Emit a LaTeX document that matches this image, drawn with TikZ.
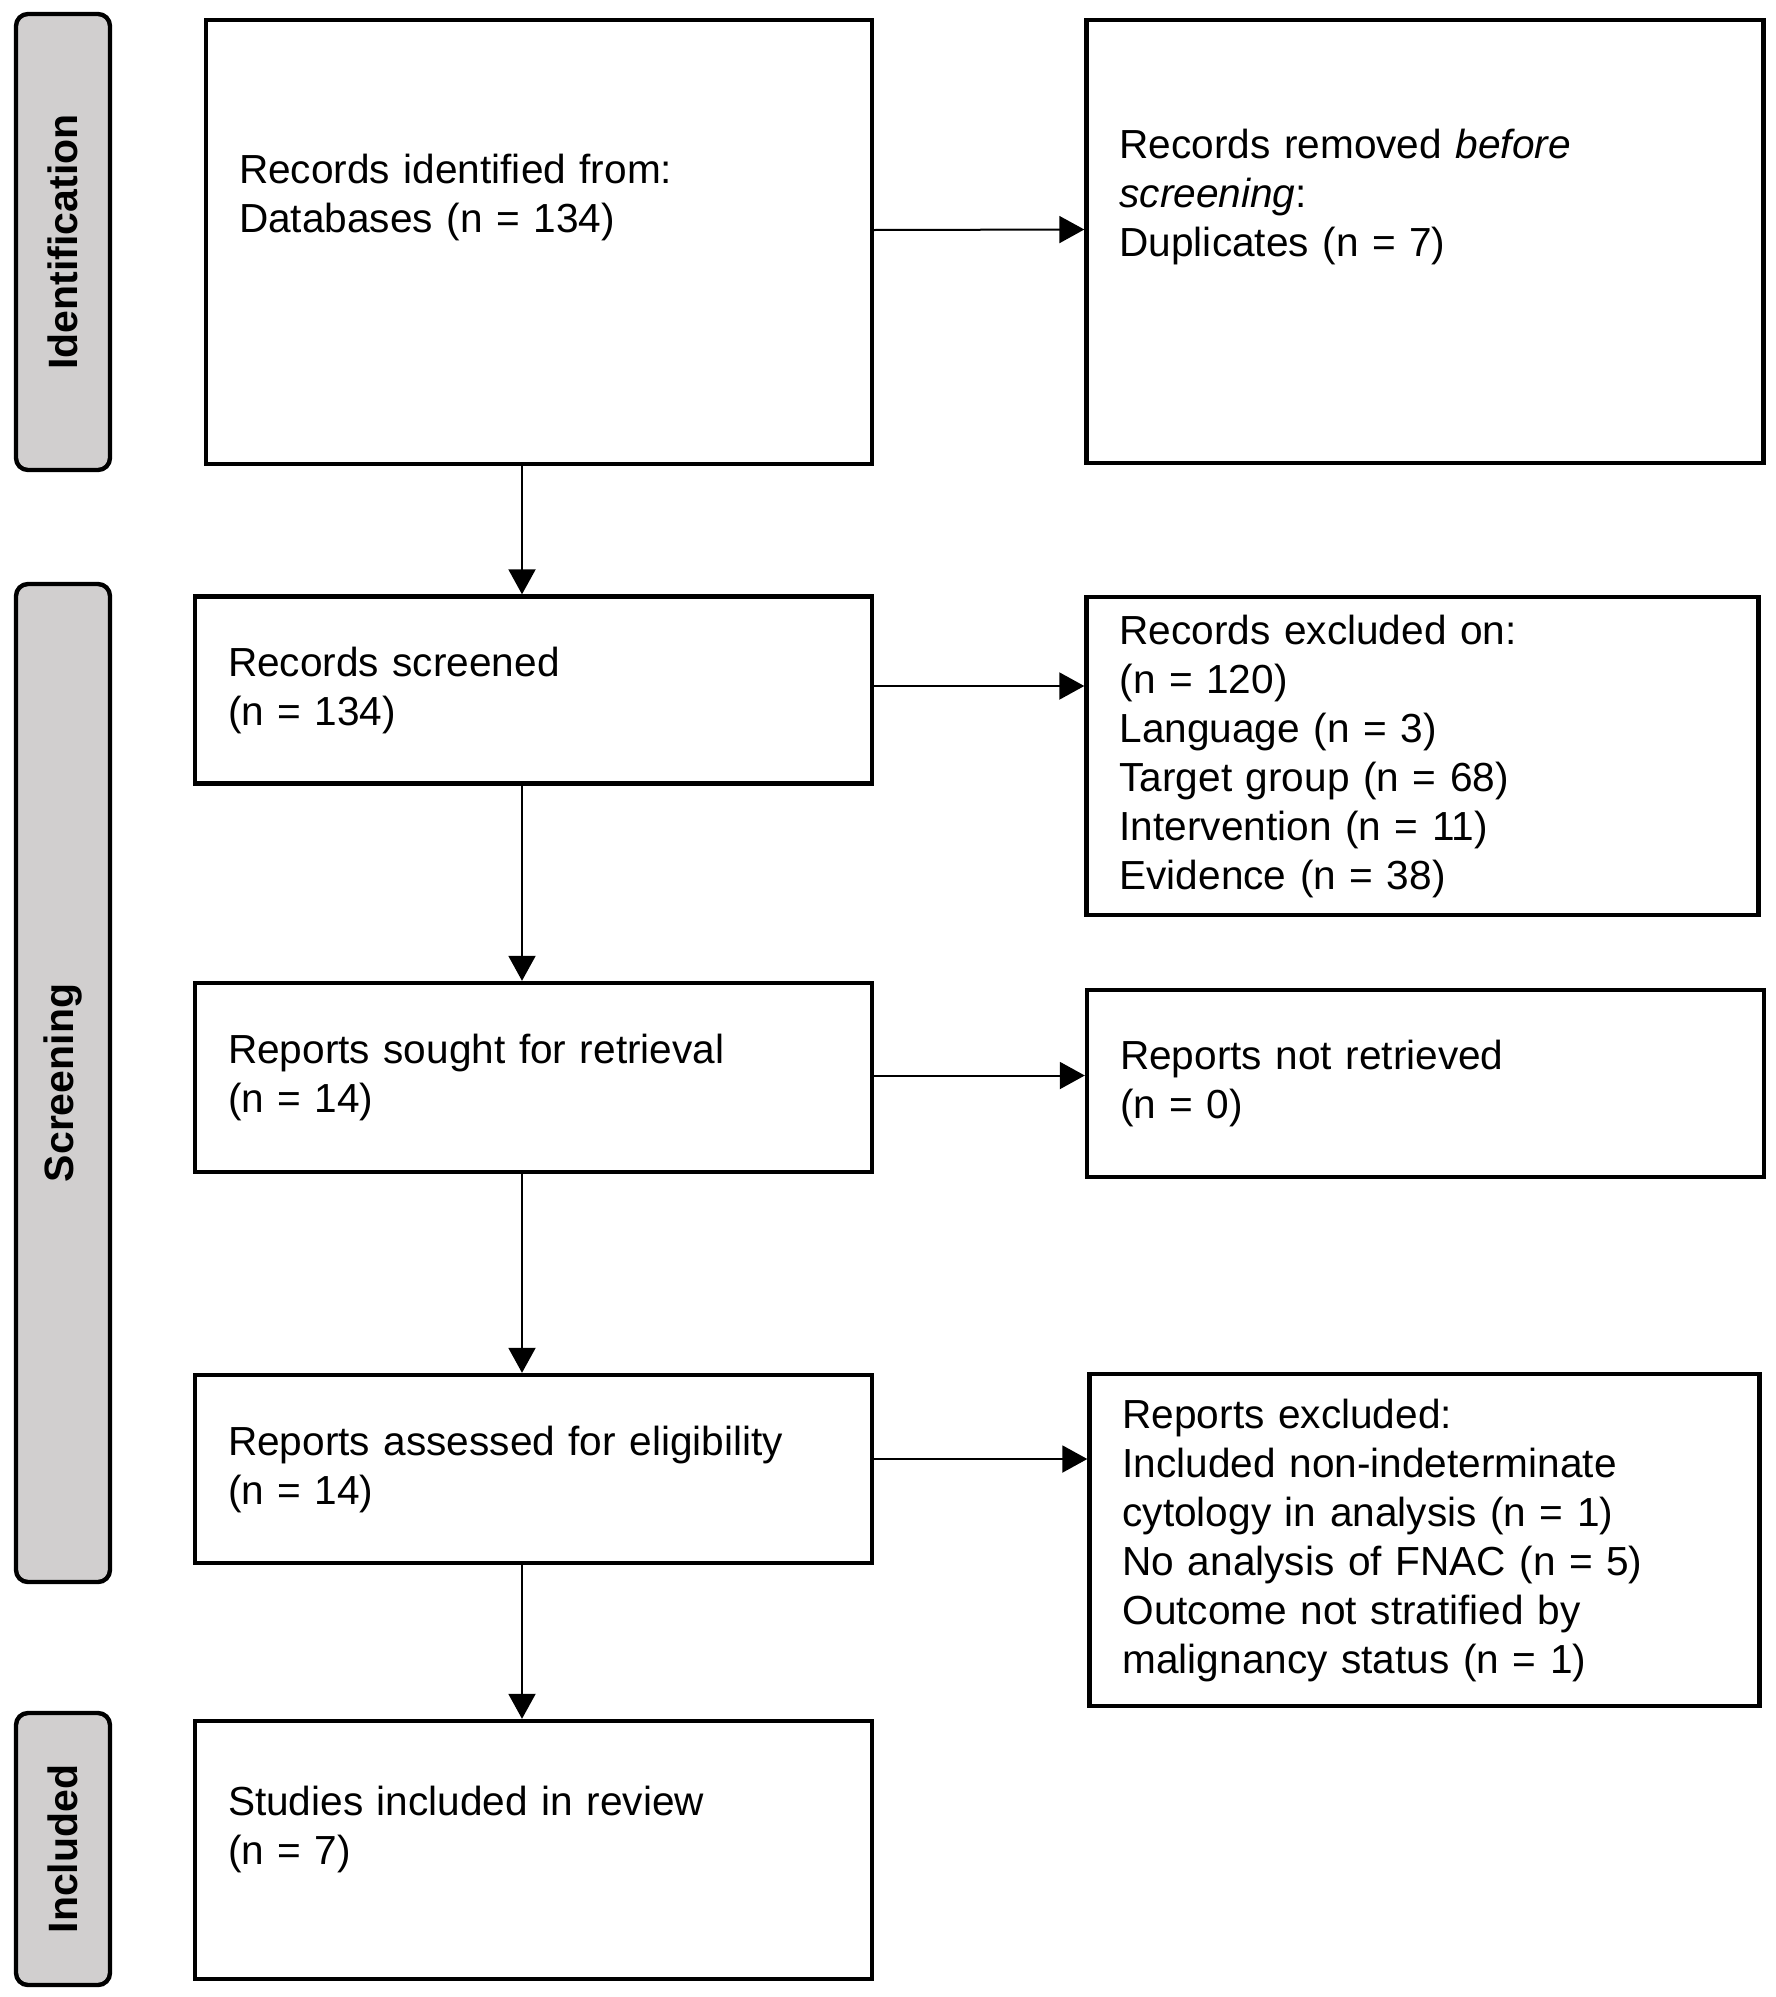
\documentclass[tikz,border=0pt]{standalone}
\usepackage{fontspec}
\setmainfont{Liberation Sans}
\usepackage{tikz}
\usetikzlibrary{arrows.meta}
\definecolor{phasegray}{RGB}{209,207,207}

\begin{document}
\begin{tikzpicture}[x=0.5pt,y=-0.5pt]
    \newcommand{\blankline}{\\\mbox{}}

    \tikzstyle{box}   = [draw=black, line width=2.2pt, inner xsep=16.5pt, align=left,
                         font=\fontsize{20.3pt}{24.5pt}\selectfont]
    \tikzstyle{phase} = [draw=black, fill=phasegray, line width=2.2pt, rounded corners=6pt,
                         rotate=90, minimum height=47pt,
                         font=\fontsize{20.5pt}{24.5pt}\selectfont\bfseries]
    \tikzstyle{flow}  = [line width=1pt, -{Triangle[length=12.5pt,width=13.5pt]}, draw=black]

    \useasboundingbox (0,0) rectangle (1776,1997);

    % phases on the left
    \node[phase, minimum width=228pt] (pident) at (63,242) {Identification};
    \node[phase, minimum width=499pt] (pscreen) at (63,1083) {Screening};
    \node[phase, minimum width=136pt] (pincl) at (63,1849) {Included};

    % main column
    \node[box, text width=300pt, minimum height=222pt] (ident) at (539,242)
        {Records identified from:\\Databases (n = 134)\blankline\blankline};
    \node[box, text width=305.5pt, minimum height=93.5pt] (screened) at (533.5,690)
        {Records screened\\(n = 134)};
    \node[box, text width=305.5pt, minimum height=94.5pt] (sought) at (533.5,1077.5)
        {Reports sought for retrieval\\(n = 14)};
    \node[box, text width=305.5pt, minimum height=94pt] (assessed) at (533.5,1469)
        {Reports assessed for eligibility\\(n = 14)};
    \node[box, text width=305.5pt, minimum height=129pt] (included) at (533.5,1850)
        {Studies included in review\\(n = 7)\blankline};

    % side column
    \node[box, text width=305.5pt, minimum height=221.5pt] (removed) at (1425,241.5)
        {Records removed \textit{before}\\\textit{screening}:\\Duplicates (n = 7)\blankline\blankline};
    \node[box, text width=303pt, minimum height=159pt] (excluded) at (1422.5,756)
        {Records excluded on:\\(n = 120)\\Language (n = 3)\\Target group (n = 68)\\Intervention (n = 11)\\Evidence (n = 38)};
    \node[box, text width=305.5pt, minimum height=93.5pt] (notretr) at (1425.5,1083.5)
        {Reports not retrieved\\(n = 0)};
    \node[box, text width=302pt, minimum height=166pt] (rexcl) at (1424.5,1540)
        {Reports excluded:\\Included non-indeterminate\\cytology in analysis (n = 1)\\No analysis of FNAC (n = 5)\\Outcome not stratified by\\malignancy status (n = 1)};

    \coordinate (spine) at (522,0);

    \draw[flow] (ident.south -| spine) -- (screened.north -| spine);
    \draw[flow] (screened.south -| spine) -- (sought.north -| spine);
    \draw[flow] (sought.south -| spine) -- (assessed.north -| spine);
    \draw[flow] (assessed.south -| spine) -- (included.north -| spine);

    \draw[flow] ([yshift=6pt]ident.east) -- ([yshift=6pt]removed.west);
    \draw[flow] ([yshift=2pt]screened.east) -- ([yshift=2pt]screened.east -| excluded.west);
    \draw[flow] ([yshift=1pt]sought.east) -- ([yshift=1pt]sought.east -| notretr.west);
    \draw[flow] ([yshift=5pt]assessed.east) -- ([yshift=5pt]assessed.east -| rexcl.west);
\end{tikzpicture}
\end{document}
